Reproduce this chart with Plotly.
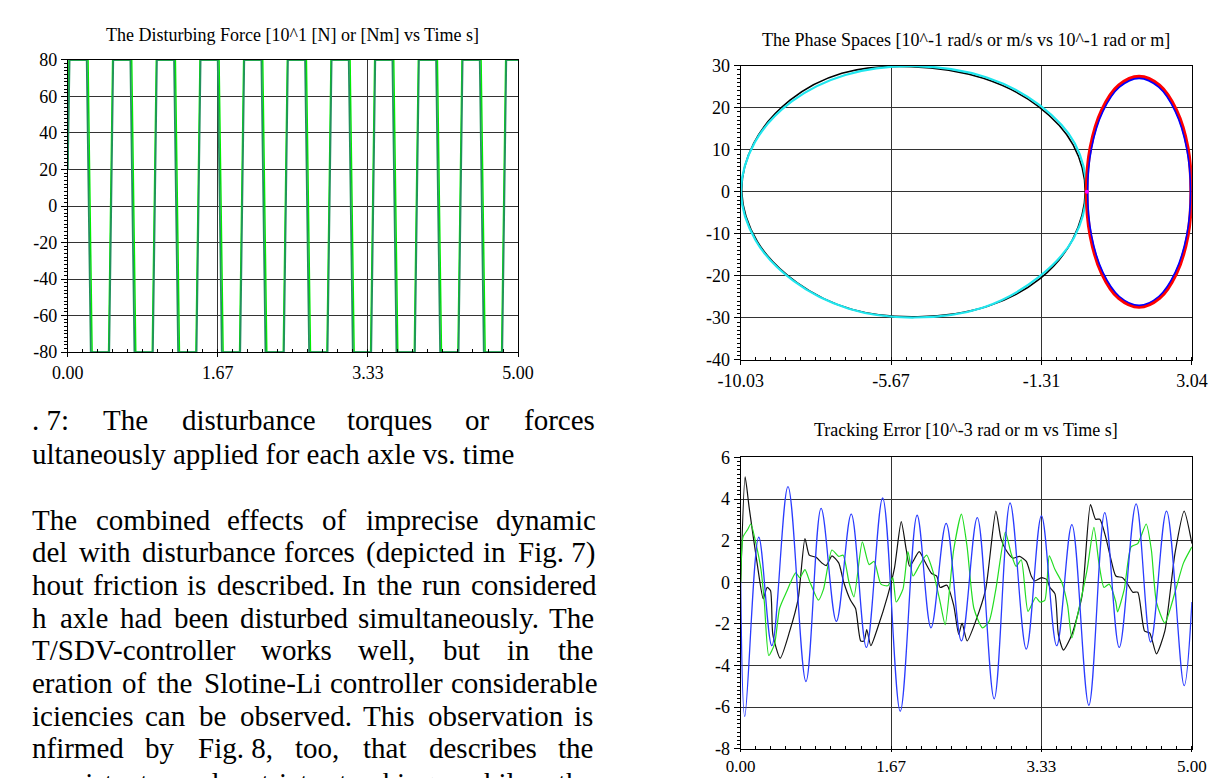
import plotly.graph_objects as go

W, H = 1227, 778

# ---------------- data ----------------
# Fig. 7: disturbing force, corner points of the clipped waves
force_t_dark = [0, 0.02, 0.21, 0.255, 0.46, 0.505, 0.695, 0.74, 0.945, 0.99, 1.18, 1.225, 1.43,
                1.475, 1.665, 1.71, 1.915, 1.96, 2.15, 2.195, 2.40, 2.445, 2.635, 2.68, 2.885,
                2.93, 3.12, 3.165, 3.37, 3.415, 3.605, 3.65, 3.855, 3.90, 4.09, 4.135, 4.34,
                4.385, 4.575, 4.62, 4.825, 4.87, 5.0]
force_y_dark = [20, 80, 80, -80, -80, 80, 80, -80, -80, 80, 80, -80, -80,
                80, 80, -80, -80, 80, 80, -80, -80, 80, 80, -80, -80,
                80, 80, -80, -80, 80, 80, -80, -80, 80, 80, -80, -80,
                80, 80, -80, -80, 80, 80]
force_t_light = [0, 0.013, 0.225, 0.27, 0.453, 0.498, 0.71, 0.755, 0.938, 0.983, 1.195, 1.24, 1.423,
                 1.468, 1.68, 1.725, 1.908, 1.953, 2.165, 2.21, 2.393, 2.438, 2.65, 2.695, 2.878,
                 2.923, 3.135, 3.18, 3.363, 3.408, 3.62, 3.665, 3.848, 3.893, 4.105, 4.15, 4.333,
                 4.378, 4.59, 4.635, 4.818, 4.863, 5.0]
force_y_light = [25, 80, 80, -80, -80, 80, 80, -80, -80, 80, 80, -80, -80,
                 80, 80, -80, -80, 80, 80, -80, -80, 80, 80, -80, -80,
                 80, 80, -80, -80, 80, 80, -80, -80, 80, 80, -80, -80,
                 80, 80, -80, -80, 80, 80]

# Phase spaces (closed loops)
ph_black_x = [-5.1, -7.1, -8.6, -9.65, -10.0, -9.55, -8.4, -6.8, -4.9, -2.9, -1.35, -0.42, -0.05, -0.4, -1.4, -3.0, -5.1]
ph_black_y = [29.8, 28.2, 21.8, 11.6, 0.0, -11.8, -21.6, -28.0, -29.7, -27.3, -20.6, -11.4, 0.0, 11.2, 20.3, 27.0, 29.8]
ph_cyan_x = [-5.0, -7.0, -8.55, -9.62, -10.02, -9.6, -8.5, -6.9, -5.0, -3.0, -1.4, -0.38, -0.02, -0.35, -1.35, -2.9, -5.0]
ph_cyan_y = [29.9, 27.8, 21.5, 11.8, 0.0, -11.5, -21.2, -27.8, -29.9, -27.5, -20.3, -11.0, 0.0, 11.5, 20.5, 27.2, 29.9]
ph_red_x = [1.51, 0.92, 0.43, 0.1, -0.01, 0.1, 0.43, 0.92, 1.51, 2.1, 2.59, 2.92, 3.02, 2.92, 2.59, 2.1, 1.51]
ph_red_y = [27.4, 25.3, 19.4, 10.5, 0.0, -10.5, -19.4, -25.3, -27.4, -25.3, -19.4, -10.5, 0.0, 10.5, 19.4, 25.3, 27.4]
ph_blue_x = [1.51, 0.94, 0.46, 0.13, 0.02, 0.13, 0.46, 0.94, 1.51, 2.08, 2.56, 2.89, 3.0, 2.89, 2.56, 2.08, 1.51]
ph_blue_y = [27.0, 24.9, 19.1, 10.3, 0.0, -10.3, -19.1, -24.9, -27.0, -24.9, -19.1, -10.3, 0.0, 10.3, 19.1, 24.9, 27.0]
ph_start_x = [0.0]
ph_start_y = [0.0]

# Tracking error
err_blue_t = [0, 0.045, 0.2, 0.345, 0.524, 0.723, 0.891, 1.06, 1.225, 1.393, 1.573, 1.768, 1.955, 2.109,
              2.277, 2.446, 2.622, 2.809, 2.985, 3.165, 3.333, 3.502, 3.67, 3.858, 4.034, 4.195, 4.382,
              4.543, 4.719, 4.914, 5.0]
err_blue = [0.0, -6.45, 2.17, -3.05, 4.6, -4.77, 3.55, -1.88, 3.27, -3.13, 4.05, -6.2, 3.22, -2.19,
            2.83, -2.82, 3.11, -5.6, 3.81, -3.21, 3.19, -3.05, 2.77, -5.91, 3.35, -3.13, 3.77,
            -2.87, 3.42, -4.97, -0.95]
err_black_t = [0, 0.049, 0.094, 0.187, 0.25, 0.292, 0.33, 0.356, 0.438, 0.543, 0.637, 0.712, 0.76, 0.835,
               0.899, 0.948, 1.011, 1.086, 1.142, 1.217, 1.273, 1.33, 1.367, 1.397, 1.442, 1.517, 1.629,
               1.704, 1.779, 1.835, 1.873, 1.978, 2.04, 2.116, 2.172, 2.21, 2.285, 2.36, 2.416, 2.453,
               2.509, 2.603, 2.715, 2.828, 2.884, 2.94, 3.015, 3.09, 3.165, 3.22, 3.258, 3.333, 3.39,
               3.427, 3.483, 3.52, 3.577, 3.67, 3.783, 3.876, 3.933, 3.98, 4.045, 4.1, 4.157, 4.232,
               4.288, 4.345, 4.4, 4.476, 4.532, 4.607, 4.7, 4.813, 4.914, 5.0]
err_black = [0.0, 5.06, 3.58, 0.76, -0.8, -0.25, -0.4, -2.5, -3.65, -2.35, -0.8, 2.1, 1.3, 1.2,
             0.93, 0.8, 1.27, 0.93, 0.0, -0.87, -1.26, -2.82, -2.82, -2.27, -3.05, -2.2, -0.64,
             0.68, 2.91, 1.55, 0.77, 1.47, 1.0, 0.42, 0.3, -0.25, -0.14, -1.1, -2.5, -1.96,
             -2.82, -1.88, -0.33, 3.42, 2.1, 1.55, 1.16, 1.24, 1.0, 0.3, 0.06, 0.22, 0.14,
             -0.25, -0.56, -2.51, -3.26, -2.51, -0.64, 3.73, 3.03, 3.03, 2.17, 1.16, 0.3, 0.22,
             -0.09, -0.48, -0.48, -2.35, -2.43, -3.44, -2.35, 1.4, 3.42, 1.86]
err_green_t = [0, 0.026, 0.075, 0.112, 0.169, 0.225, 0.262, 0.311, 0.375, 0.431, 0.506, 0.61, 0.655, 0.712,
               0.768, 0.861, 0.918, 1.011, 1.086, 1.135, 1.2, 1.255, 1.348, 1.423, 1.479, 1.554, 1.629,
               1.685, 1.723, 1.798, 1.854, 1.91, 1.985, 2.06, 2.135, 2.21, 2.266, 2.36, 2.446, 2.509,
               2.584, 2.678, 2.753, 2.828, 2.933, 2.996, 3.052, 3.109, 3.184, 3.27, 3.315, 3.37, 3.42,
               3.483, 3.558, 3.622, 3.67, 3.764, 3.839, 3.914, 3.97, 4.026, 4.082, 4.157, 4.176, 4.251,
               4.326, 4.4, 4.494, 4.551, 4.607, 4.7, 4.813, 4.906, 5.0]
err_green = [0.0, 2.18, 2.52, 2.8, 1.86, 0.61, -0.95, -3.52, -2.97, -1.25, -0.48, 0.45, 0.22, 0.61,
             0.0, -0.86, -0.33, 1.55, 1.24, 1.3, 0.0, -0.7, 1.94, 0.85, 1.0, -0.09, -0.17,
             0.22, -0.95, -0.33, 1.47, 0.3, 0.85, 1.3, 0.45, -0.95, -2.04, 1.55, 3.27, 1.7,
             -1.25, -2.19, -1.88, -0.33, 2.41, 1.39, 0.76, 1.08, -1.4, -0.72, -0.95, -0.87, 1.27,
             0.61, 0.0, -1.09, -2.67, -0.95, 0.61, 2.64, 0.92, -0.25, -0.09, -0.95, -1.42, -0.33,
             1.7, 1.86, 2.8, 1.55, -0.95, -1.96, -0.48, 0.92, 1.7]

# tick labels
time_tickvals = [0, 5 / 3, 10 / 3, 5]
time_ticktext = ["0.00", "1.67", "3.33", "5.00"]
force_ticks = [80, 60, 40, 20, 0, -20, -40, -60, -80]
phase_xtickvals = [-10.03, -5.673, -1.317, 3.04]
phase_xticktext = ["-10.03", "-5.67", "-1.31", "3.04"]
phase_yticks = [30, 20, 10, 0, -10, -20, -30, -40]
err_ticks = [6, 4, 2, 0, -2, -4, -6, -8]

titles = ["The Disturbing Force [10^1 [N] or [Nm] vs Time s]",
          "The Phase Spaces [10^-1 rad/s or m/s vs 10^-1 rad or m]",
          "Tracking Error [10^-3 rad or m vs Time s]"]

caption_line1 = [". 7:", "The", "disturbance", "torques", "or", "forces"]
caption_line2 = "ultaneously applied for each axle vs. time"
paragraph = [
    ["The", "combined", "effects", "of", "imprecise", "dynamic"],
    ["del", "with", "disturbance", "forces", "(depicted", "in", "Fig.\u00a07)"],
    ["hout", "friction", "is", "described.", "In", "the", "run", "considered"],
    ["h", "axle", "had", "been", "disturbed", "simultaneously.", "The"],
    ["T/SDV-controller", "works", "well,", "but", "in", "the"],
    ["eration", "of", "the", "Slotine-Li", "controller", "considerable"],
    ["iciencies", "can", "be", "observed.", "This", "observation", "is"],
    ["nfirmed", "by", "Fig.\u00a08,", "too,", "that", "describes", "the"],
    ["consistent", "and", "strict", "tracking", "while", "the"],
]

# ---------------- layout helpers ----------------
SERIF = "Liberation Serif, Times New Roman, serif"


def fx(p):
    return p / W


def fy(p):
    return 1 - p / H


TW = {' ': 250, '!': 333, '(': 333, ')': 333, ',': 250, '-': 333, '.': 250, '/': 278, ':': 278,
      '\u00a0': 250,
      'A': 722, 'B': 667, 'C': 667, 'D': 722, 'E': 611, 'F': 556, 'G': 722, 'H': 722, 'I': 333,
      'J': 389, 'K': 722, 'L': 611, 'M': 889, 'N': 722, 'O': 722, 'P': 556, 'Q': 722, 'R': 667,
      'S': 556, 'T': 611, 'U': 722, 'V': 722, 'W': 944, 'X': 722, 'Y': 722, 'Z': 611,
      'a': 444, 'b': 500, 'c': 444, 'd': 500, 'e': 444, 'f': 333, 'g': 500, 'h': 500, 'i': 278,
      'j': 278, 'k': 500, 'l': 278, 'm': 778, 'n': 500, 'o': 500, 'p': 500, 'q': 500, 'r': 333,
      's': 389, 't': 278, 'u': 500, 'v': 500, 'w': 722, 'x': 500, 'y': 500, 'z': 444}


def text_w(s, fs):
    return sum(TW.get(c, 500) for c in s) / 1000.0 * fs


def axis(domain, rng, tickvals, ticktext, minor_dtick, minor_tick0, minor_ticks, ticklen, anchor, fsize=18):
    return dict(domain=domain, range=rng, anchor=anchor,
                showline=True, linecolor="black", linewidth=1, mirror=True,
                showgrid=True, gridcolor="#333333", gridwidth=1, zeroline=False,
                tickmode="array", tickvals=tickvals, ticktext=ticktext,
                ticks="outside", ticklen=ticklen, tickcolor="black", tickwidth=1,
                tickfont=dict(family=SERIF, size=fsize, color="black"),
                minor=dict(tickmode="linear", tick0=minor_tick0, dtick=minor_dtick,
                           ticks=minor_ticks, ticklen=3, tickcolor="black", showgrid=False),
                fixedrange=True)


fig = go.Figure()

# Fig 7
fig.add_trace(go.Scatter(x=force_t_light, y=force_y_light, mode="lines",
                         line=dict(color="#00ee00", width=1.5), xaxis="x", yaxis="y"))
fig.add_trace(go.Scatter(x=force_t_dark, y=force_y_dark, mode="lines",
                         line=dict(color="#23905e", width=1.8), xaxis="x", yaxis="y"))

# Phase spaces
fig.add_trace(go.Scatter(x=ph_black_x, y=ph_black_y, mode="lines", line=dict(color="black", width=1.6, shape="spline"),
                         xaxis="x2", yaxis="y2"))
fig.add_trace(go.Scatter(x=ph_cyan_x, y=ph_cyan_y, mode="lines", line=dict(color="#20e6ee", width=2.2, shape="spline"),
                         xaxis="x2", yaxis="y2"))
fig.add_trace(go.Scatter(x=ph_red_x, y=ph_red_y, mode="lines", line=dict(color="#ff0000", width=3.6, shape="spline"),
                         xaxis="x2", yaxis="y2"))
fig.add_trace(go.Scatter(x=ph_blue_x, y=ph_blue_y, mode="lines", line=dict(color="#0000ff", width=1.6, shape="spline"),
                         xaxis="x2", yaxis="y2"))
fig.add_trace(go.Scatter(x=ph_start_x, y=ph_start_y, mode="markers", marker=dict(color="#ff00ff", size=4),
                         xaxis="x2", yaxis="y2"))

# Tracking error
fig.add_trace(go.Scatter(x=err_black_t, y=err_black, mode="lines",
                         line=dict(color="#111111", width=1.2, shape="spline", smoothing=0.6), xaxis="x3", yaxis="y3"))
fig.add_trace(go.Scatter(x=err_green_t, y=err_green, mode="lines",
                         line=dict(color="#22dd22", width=1.2, shape="spline", smoothing=0.6), xaxis="x3", yaxis="y3"))
fig.add_trace(go.Scatter(x=err_blue_t, y=err_blue, mode="lines",
                         line=dict(color="#2a3cff", width=1.3, shape="spline", smoothing=1.0), xaxis="x3", yaxis="y3"))

left_dom_x = [fx(38), fx(503)]
right_dom_x = [fx(733), fx(1199)]

fig.update_layout(
    width=W, height=H, margin=dict(l=0, r=0, t=0, b=0),
    paper_bgcolor="white", plot_bgcolor="white", showlegend=False,
    xaxis=axis(left_dom_x, [0, 5], time_tickvals, time_ticktext, 1 / 6, 0, "inside", 4, "y"),
    yaxis=axis([fy(343), fy(43)], [-80, 80], force_ticks, [str(v) for v in force_ticks], 2, -80, "outside", 6, "x"),
    xaxis2=axis(right_dom_x, [-10.03, 3.04], phase_xtickvals, phase_xticktext, 13.07 / 30, -10.03, "inside", 4, "y2"),
    yaxis2=axis([fy(351), fy(49)], [-40, 30], phase_yticks, [str(v) for v in phase_yticks], 1, -40, "outside", 6, "x2"),
    xaxis3=axis(right_dom_x, [0, 5], time_tickvals, time_ticktext, 1 / 6, 0, "inside", 2, "y3", fsize=17),
    yaxis3=axis([fy(750), fy(451)], [-8, 6], err_ticks, [str(v) for v in err_ticks], 0.2, -8, "outside", 6, "x3"),
)

ann = []
# chart titles
for (cx, cy), t in zip([(270, 17), (966, 23), (966, 423)], titles):
    ann.append(dict(text=t, x=fx(cx), y=fy(cy), xref="paper", yref="paper", xanchor="center", yanchor="middle",
                    showarrow=False, font=dict(family=SERIF, size=18, color="black")))

FS = 29
LEFT, RIGHT = 0.0, 579.0


def justified(words, yc):
    ws = [text_w(w, FS) for w in words]
    gap = (RIGHT - LEFT - sum(ws)) / (len(words) - 1)
    xpos = LEFT
    for w, wd in zip(words, ws):
        ann.append(dict(text=w, x=fx(xpos), y=fy(yc), xref="paper", yref="paper", xanchor="left",
                        yanchor="middle", showarrow=False, borderpad=0,
                        font=dict(family=SERIF, size=FS, color="black")))
        xpos += wd + gap


justified(caption_line1, 413)
ann.append(dict(text=caption_line2, x=fx(LEFT), y=fy(447), xref="paper", yref="paper", xanchor="left",
                yanchor="middle", showarrow=False, borderpad=0, font=dict(family=SERIF, size=FS, color="black")))
line_y = [515, 548.5, 582, 615.5, 649, 682.5, 716, 749.5, 785]
for words, yc in zip(paragraph, line_y):
    justified(words, yc)

fig.update_layout(annotations=ann)
fig.write_html("out.html")
